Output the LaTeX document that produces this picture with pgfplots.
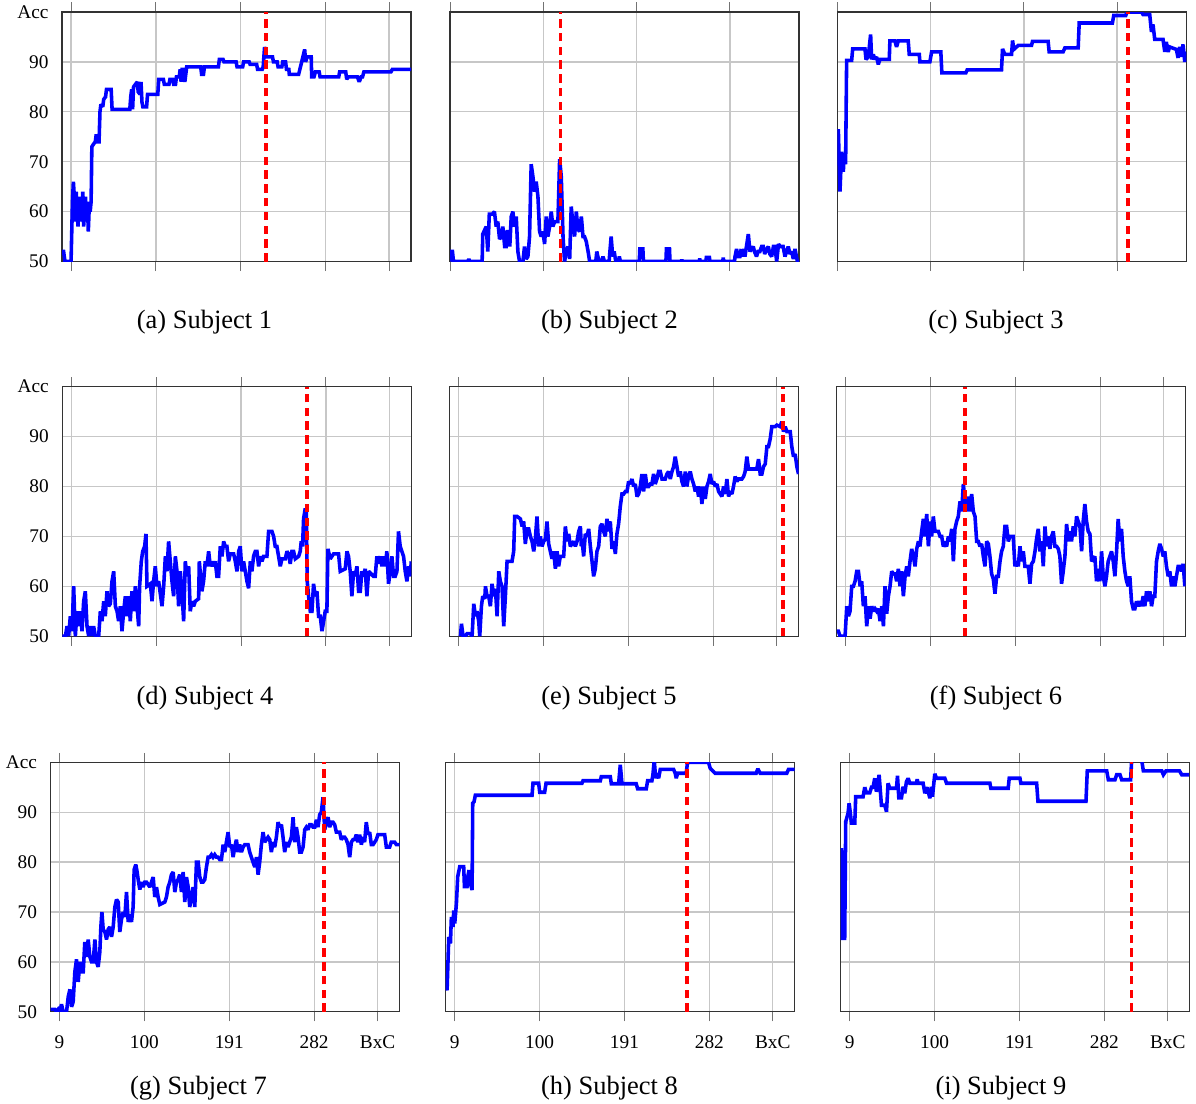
\documentclass[border=0pt]{standalone}
\usepackage{fontspec}
\setmainfont{Liberation Serif}
\usepackage{pgfplots}
\pgfplotsset{compat=1.18}

\pgfplotsset{
  subj/.style={
    scale only axis, width=131.92pt, height=94.31pt,
    anchor=north west,
    ymin=50, ymax=100, ytick={50,60,...,100},
    xmin=-0.7, xmax=373.5,
    xtick={9,100,191,282,350},
    xticklabels={}, yticklabels={},
    grid=major, grid style={black!22, line width=0.5pt},
    axis line style={black!80, line width=0.5pt},
    tick align=outside, major tick length=3.6pt,
    xtick style={black!55, line width=0.4pt},
    ytick style={draw=none},
    tick label style={font=\fontsize{7.3}{8.5}\selectfont},
    y tick label style={xshift=2pt},
  },
  short/.style={xmin=9, xmax=349.5, xtick={9,100,191,282}},
  leftcol/.style={yticklabels={50,60,70,80,90,Acc}},
  bottomrow/.style={xticklabels={9,100,191,282,BxC}, x tick label style={yshift=-2pt}},
  acc/.style={blue, line width=1.35pt, line join=miter, miter limit=2.2},
  sel/.style={red, line width=1.3pt, dash pattern=on 3.2pt off 2pt},
}

\begin{document}
\begin{tikzpicture}
\path[use as bounding box] (0,0) rectangle (452.09pt,-417.31pt);

% ---------------- Subject 1
\begin{axis}[subj, leftcol, at={(23.44pt,-4.54pt)}]
\addplot[acc] table {
x y
-1 52
1 52
2.5 50
9 50
10.5 62
11.5 66
12.5 63
13.5 58
14.5 64
15.5 60
16.5 57
17.5 63
18.5 59
19.5 62
20.5 58
21.5 64
22.5 57
23.5 61
24.5 63
25.5 58
26.5 62
27.5 56
28.5 61
29.5 60
30.5 62
31.3 73
33 73.5
35 74
36 75.5
37 74
39 74
40 80
41 81.5
43 81
44 82.5
46 83
47 84.5
52 84.5
53 80.5
72 80.5
73 83
74 84.5
75 80.5
76 85
78 85.5
80 86
81 84
83 83.5
84 86
85 82
86 81
90 81
91 83.5
102 83.5
103 86.5
108 86.5
109 85.5
114 85.5
115 86.5
118 86.5
119 85.5
121 85.5
122 87
125 87
126 88.5
127 86
128 88.5
130 88.5
131 86
132 87.5
133 89
148 89
149 87.5
151 87.5
152 89
167 89
168 90.5
172 90.5
173 90
186 90
187 89
193 89
194 90
200 90
201 89.5
208 89.5
209 88.5
214 88.5
215 89
216.5 93
218 91
225 91
226 90
230 90
231 89
235 89
236 90
239 90
240 88.5
242.5 88.5
243 87.5
253 87.5
255 89
259.5 92.5
260.5 90
262 91
266.5 91
267 87
269.5 87
271 88
275 88
276 87
296 87
297 88
303.5 88
304.6 86.5
306 87
316 87
318 86
320 87
321.5 87
323 88
352 88
353.5 88.5
374 88.5
};
\addplot[sel] coordinates {(218,50) (218,100)};
\end{axis}

% ---------------- Subject 2
\begin{axis}[subj, short, xmin=8.6, at={(170.1pt,-4.54pt)}]
\addplot[acc] table {
x y
9 50
9.5 52
11 52
12 50
26 50
27 50.5
28 50
40 50
40.6 55.5
44 57
45.5 52
47 59.5
50 59.5
52 60
53.7 57
55.3 58
57 54.5
59 55
60.2 57
62 53
63.5 53
64.5 56
66.5 56
67 53
68.4 59
70 60
71.6 57
73.3 59
74.9 52
76.5 50
79.8 50
81.4 53
83 50.5
84.7 51
86.3 55
87.9 69.5
89.6 67
91.2 64
92.8 66
94.5 63
96.1 56
97.7 55
99.3 56
101 53.5
102.6 59
104.2 55
105.9 57
107.5 60
109.1 57
110.8 58
114 58
115.7 70.5
117.3 67
119 55
120.5 50
122.2 52
123.8 53
125.5 50.5
127 61
128.5 58
130.3 55
132 60
133.5 56.5
135.2 56
136.9 59
138.5 55
140 55
141.7 54
143.5 52
145 50
151 50
152 52
153 51
154.5 50
157 50
158 51
159.5 50
164 50
166 55
167.5 51
169 52
170.5 50
173 50
174 51
175 50
193.5 50
194 52.5
197 52.5
197.5 50
219.5 50
220 52.5
223 52.5
223.5 50
234.5 50
235 50.4
235.5 50
252 50
252.6 50.6
253 50
258.5 50
259 50.8
262 50.8
262.5 50
275 50
275.5 50.8
276 50
286.5 50
287 51
288.5 52.5
290 51
291.8 51
293 52.5
294 51
295 52.5
296.7 51
300 55.5
301.6 52
303 52.5
304.8 53
306 52
308 51
309.5 52
311.3 52
313 53
314.6 53
316 51.5
318 52.5
319.5 53
321 51.5
322.8 51
324.5 53
326 53
327.7 50
329.5 53.5
331 53
332.5 53
334 53
335.8 51
337.5 52
339 53
340.7 51.5
342.3 52
344 50.5
345.6 52.5
347 51
348 50
350 50
};
\addplot[sel] coordinates {(116.5,50) (116.5,100)};
\end{axis}

% ---------------- Subject 3
\begin{axis}[subj, short, at={(316.5pt,-4.54pt)}]
\addplot[acc] table {
x y
9 72
10 76.5
11.6 64
13.2 72
14.9 68
15.5 71
17.1 69.5
18.1 90.3
23 90.3
24 92.6
36 92.6
37 90.5
39.2 91
41.5 95.5
42.5 90.5
44.1 91.5
45.7 90.5
47.3 91
49 89.5
50.6 90.5
59.7 90.5
60.3 94.2
65.2 94.2
66.8 93
68.5 94.2
78.2 94.2
79.2 91.5
89 91.5
89.6 90
99.3 90
101 92
110 92
111 87.8
134.4 87.8
135.7 88.4
169.2 88.4
170.2 92.6
172.5 91.5
179 91.5
180 94.3
181.2 92.5
185.5 93.3
198.5 93.3
199.4 94.1
214.7 94.1
215.7 92
229.3 92
231 92.8
244 92.8
245 97.8
277.4 97.8
278.7 99.3
290.4 99.3
291.7 100
305.7 100
307.3 99.5
313.8 99.5
315.5 96
317 97.5
318.7 94.5
326.8 94.5
328.5 92
330 94
331.7 92
333.3 93
339.8 92.5
341.5 90.8
343 93
344.7 91
346.3 93.5
348 90
349.5 92
};
\addplot[sel] coordinates {(292.5,50) (292.5,100)};
\end{axis}

% ---------------- Subject 4
\begin{axis}[subj, leftcol, at={(23.55pt,-146.17pt)}]
\addplot[acc] table {
x y
-1 50
2.6 50
4.4 52
6.1 50
7.9 54
9.7 51
11.5 60
13.3 50
15.1 55
16.9 52
18.6 55
20.4 51
22.2 57
24 59
25.8 52
27.6 50
29.4 52
31.2 50
32.9 52
34.7 50
38.3 50
40.1 55
41.9 53
43.7 57
45.4 54
47.2 59
49 56
50.8 56.5
52.6 61
54.4 63
56.2 56
58 55
59.7 53
61.5 56
63.3 51
65.1 55
66.9 58
68.7 54
70.5 58
72.2 53
74 59
75.8 55
77.6 60
79.4 56
81.2 52
82.2 60
84 65
85.5 67
87.6 68
89 70.5
90.1 60
93.7 60.5
95.5 57
97.2 61
99 64
100.8 60
102.6 61
106.2 56
108 60
109.8 66
111.5 63
113.3 69
115.1 65
116.9 61
118.7 58
120.5 66
122.3 63
124 56
125.8 63
127.6 59
129.4 53
131.2 65
133 62
134.8 64
136.5 55
138.3 57
140.1 56
141.9 57
145.5 57.5
146.2 65
149 59
150.8 61
152.6 65
154.4 64
156.2 67
158 64
159.8 65
161.6 64
163.3 65
165.1 62
166.9 62
168.7 68
170.5 66
172.3 69
174.1 68
175.8 68
177.6 65
179.4 66.5
183 66.5
184.8 65
186.6 63
188.4 67
190.1 68
191.9 63
193.7 65
195.5 63
197.3 61
199.1 59.6
200.9 65
202.6 63
204.4 66
206.2 67
208 67
209.8 64
211.6 66
213.4 65
215.1 66
218.7 66
220.5 71
224.1 71
225.9 70
227.6 68
229.4 68
231.2 66
233 64
234.8 65.5
238.4 65.5
240.2 67
241.9 66.5
243.7 64.5
245.5 67
247.3 67
249.1 65.5
252.7 66
254.4 67
255.5 69
256.9 68
258 73.5
259.8 75.6
260.9 75
261.9 61
263.4 58
265.2 55
267 55
268.7 60.5
270.5 58
272.3 59
274.1 54
275.9 54
277.7 51
279.5 53
281.2 55
283 55
284.1 67.5
286.6 65.5
288.4 66
290.2 66.5
295.5 66.5
297.3 63
302.7 63.5
304.5 67
306.2 66
308 63
309.8 58
311.6 63
313.4 62
315.2 64
317 59
318.8 59
320.5 63
322.3 62
324.1 63.5
325.9 58
327.7 63
333 62
334.8 62
336.6 66
338.4 64.5
340.2 66
342 64
343.8 66
345.6 64
347.3 67
349.1 60.5
350.9 63
352.7 66
354.5 62
356.3 62
358.1 63
359.8 71
361.6 68
363.4 67
365.2 66
367 63
368.8 61
370.6 64
372.3 62
373.5 65
};
\addplot[sel] coordinates {(261.6,50) (261.6,100)};
\end{axis}

% ---------------- Subject 5
\begin{axis}[subj, at={(169.99pt,-146.17pt)}]
\addplot[acc] table {
x y
10.8 50
11.9 52.5
13.6 50
16.1 50
17.9 50.5
21.5 50.5
23.3 50
25.1 56.5
26.9 54
28.6 55
30.4 53
31.5 50
33.3 56
34.7 58
36.9 57.5
37.6 60
39.4 58
41.1 58
42.9 56
44.7 60.5
46.5 58
48.3 59.5
50.1 54
51.9 63
53.6 61
55.4 60
57.2 52
59 58
60.8 65
66.1 65
67.9 67
69 74
71.5 74
75.1 73.5
76.9 72
78.6 73
80.4 68.5
82.2 71.5
84 71.5
85.8 70
87.6 69
89.4 67
91.1 69.5
92.9 74
94.7 68
96.5 70
98.3 68
100.1 69
101.9 69.5
103.6 73
105.4 68.5
107.2 67
109 65.5
110.8 67
112.6 63.5
114.4 67
116.1 64
117.9 66
121.5 66
123.3 72
125.1 69
126.9 70.5
128.6 68
130.4 68.5
132.2 69
134 68
135.8 69
137.6 71
139.4 72
140.4 68
141.1 69.5
142.9 66
144.7 70.5
146.5 70
148.3 71.5
150.1 68
151.9 65
153.6 62
155.4 63.5
157.2 67
159 68
160.8 72
162.6 72.5
164.4 71
166.1 70
167.9 73.5
169.7 71
171.5 73
173.3 67.5
175.1 69
176.9 66.5
178.6 70.5
180.4 72.5
182.2 76
184 78.5
185.8 78.5
187.6 79
189.4 79
191.1 81
192.9 80.5
194.7 81.5
196.5 80
198.3 80.5
200.1 78
201.9 78.5
203.6 80
205.4 82.5
207.2 79
209 82.5
210.8 80
212.6 80
214.4 80.5
216.1 80.5
217.9 82.5
219.7 80.5
221.5 81.5
223.3 83
225.1 83
226.9 81.5
230.4 81.5
232.2 82.5
234 83
235.8 81.5
237.6 83
239.4 84
241.1 86
242.9 84
244.7 82
246.5 83
248.3 81
250.1 80
251.9 83
253.6 80
255.4 82
257.2 83
259 81.5
260.8 80.5
262.6 79
264.4 80
266.1 78
267.9 80
269.7 76.5
271.5 80
273.3 77.5
275.1 80
276.9 81
278.6 82.5
280.4 80.5
282.2 81
284 80
285.8 80.5
287.6 79
289.4 78.5
291.1 78
292.9 80
294.7 78.5
296.5 81.5
298.3 78
300.1 79
301.9 78.5
303.6 80
305.4 82
307.2 81
309 81.5
312.6 81.5
314.4 82
316.1 83
317.9 86
319.7 83.5
328.6 83.5
330.4 85.5
332.2 82.5
334 82.5
335.8 84
337.6 84.5
339.4 88
341.1 88
342.9 89.5
344.7 92
348.3 92
350.1 92.3
353.6 92
355.4 93
357.2 91
359 92
360.8 91
364.4 91
366.1 88
367.9 86
369.7 86.5
371.5 84
373.3 82.5
};
\addplot[sel] coordinates {(356.5,50) (356.5,100)};
\end{axis}

% ---------------- Subject 6
\begin{axis}[subj, at={(316.27pt,-146.17pt)}]
\addplot[acc] table {
x y
-0.6 51
1.1 51
2.9 50
8.3 50
10.1 56
11.9 54
13.6 55
15.4 60
17.2 60
19 61
20.8 63
22.6 63
24.4 60
26.1 61
27.9 56
29.7 58
31.5 52
33.3 56
35.1 53.5
36.9 56
38.6 55
40.4 55.5
42.2 55
44 55.5
45.8 53
47.6 56
49.4 52
51.1 60
52.9 54.5
54.7 58
56.5 60
58.3 63
60.1 62.5
61.9 62.5
63.6 61
65.4 63.5
67.2 60
69 63
70.8 58
72.6 62
74.4 64
76.1 62
77.9 65
79.7 67.5
81.5 66
83.3 64
85.1 67.5
86.9 69
88.6 68
90.4 71
92.2 73.5
94 70
95.8 74.5
97.6 68
99.4 73
101.1 70
102.9 74
104.7 71
106.5 71
108.3 71
110.1 70
111.9 70
113.6 68
115.4 68.5
117.2 68
119 70
120.8 69
122.6 71.5
124.4 65
126.1 71.5
127.9 73
129.7 74
131.5 77
133.3 75
135.1 80.5
136.9 77
138.6 75
140.4 78
142.2 75
144 78.5
145.8 75
147.6 74
149.4 69
151.1 69
152.9 68
154.7 68.5
156.5 66
158.3 64
160.1 69
161.9 68.5
163.6 66
165.4 62.5
167.2 61.5
169 58.5
170.8 62
172.6 62
174.4 65
176.1 67
177.9 68
179.7 72
181.5 72
183.3 69
185.1 70
186.9 70
188.6 70
190.4 64
192.2 65
194 64
195.8 68
197.6 65
199.4 67
201.1 64
202.9 64
204.7 64
206.5 60.5
208.3 64.5
210.1 65
211.9 67
213.6 69.5
215.4 71.5
217.2 67
219 69
220.8 64
222.6 72
224.4 68
226.1 70
227.9 67.5
229.7 70
231.5 71
233.3 68
235.1 68
236.9 67.5
238.6 66
240.4 60.5
242.2 63
244 66
245.8 72.5
247.6 69
249.4 71
251.1 69
252.9 72
254.7 70
256.5 74
258.3 73
260.1 72
261.9 67
263.6 73
265.4 76.5
267.2 73
269 71
270.8 70.5
272.6 65
274.4 65.5
276.1 66
277.9 61
279.7 63.5
281.5 61
283.3 67
285.1 62
286.9 60
288.6 62
290.4 65
292.2 66
294 67
295.8 65
297.6 62
299.4 67
301.1 73.5
302.9 69
304.7 71.5
306.5 66
308.3 63
310.1 61
311.9 60
313.6 62
315.4 57
317.2 55.5
319 55.5
320.8 57
322.6 56
324.4 57
326.1 56
327.9 58
329.7 56
331.5 59
333.3 57
335.1 59
336.9 56
338.6 58
340.4 58
342.2 65
344 67
345.8 68.5
347.6 67.5
349.4 66
351.1 67
352.9 64
354.7 62
356.5 63
358.3 60
360.1 62
361.9 60
363.6 62
365.4 64
367.2 64
369 63
370.8 64.5
372.6 60
};
\addplot[sel] coordinates {(136.9,50) (136.9,100)};
\end{axis}

% ---------------- Subject 7
\begin{axis}[subj, leftcol, bottomrow, at={(19.09pt,-288.15pt)}]
\addplot[acc] table {
x y
-0.7 50.5
4 50.5
5.8 50
7.6 50.5
9.4 50
11.1 51.5
12.9 50
16.5 50
18.3 53
20.1 54.5
21.9 51
23.6 52
25.4 58
27.2 60.5
29 56
30.8 60
32.6 58
34.4 58
36.1 64
37.9 61
39.7 64.5
41.5 61
43.3 60
45.1 60
46.9 64.5
48.6 60
50.4 59
52.2 62
53.3 67
54.4 70
55.8 66.5
57.6 66
59.4 64.5
61.1 66.5
62.9 67
64.7 65
66.5 67
68.3 71
70.1 72.5
71.9 72
73.6 66
75.4 68.5
77.2 70
79 69
80.8 74
82.6 68
84.4 69.5
86.1 68
87.9 71
89 78.5
90.8 79.5
92.2 78
93.3 76.5
95.1 74.5
96.9 76
98.6 75
100.4 76
102.2 76
104 75.5
105.8 75
107.6 76
109.4 77
111.1 73
112.9 75
114.7 73
116.5 71.5
121.9 72
123.6 73
125.4 75
127.2 76
129 77.5
130.8 78
132.6 74
134.4 76
136.1 76.5
137.9 77.5
139.7 74
141.5 78
143.3 72
145.1 77
146.9 75
148.6 71
150.4 73
152.2 75
154 71
155.8 80
157.6 80
159.4 77
161.1 76
162.9 76
164.7 76.5
166.5 79
168.3 81
170.1 81
171.9 81.5
173.6 81
175.4 81.5
177.2 81
179 81
180.8 80.5
182.6 80.5
184.4 83.5
186.1 82
187.9 84
189.7 86
191.5 83
193.3 83.5
195.1 81
196.9 83
198.6 84.5
200.4 82
202.2 83.5
204 82
205.8 83
207.6 83.5
211.1 83.5
212.9 82
214.7 81
216.5 80
218.3 79
220.1 81
221.9 77.5
223.6 80
225.4 83.5
227.2 86
229 84
230.8 84.5
232.6 85
234.4 84.5
236.1 82
237.9 84
239.7 83
241.5 85
243.3 88
245.1 87
246.9 87.5
248.6 85
250.4 82
252.2 84
254 83
255.8 84
257.6 85
259.4 89
261.1 84
262.9 87
264.7 85
266.5 82
268.3 82
270.1 83
271.9 86.5
273.6 87
275.4 86.5
277.2 87.5
279 87.5
280.8 87
282.6 87
284.4 88.5
286.1 87
287.9 89.5
289.7 90
291.5 93
293.3 86.5
295.1 88
296.9 89
298.6 87
300.4 88
302.2 88
304 87.5
305.8 86
309.4 86
311.1 84.5
312.9 85
314.7 85
316.5 84.5
318.3 83.5
320.1 81
321.9 84
323.6 84.5
325.4 84.5
327.2 85.5
329 84
330.8 85.5
332.6 83.5
334.4 85
336.1 84
337.9 88
339.7 85.5
341.5 86
343.3 83.5
345.1 83.5
346.9 84
348.6 84.5
350.4 85.5
357.6 85.5
359.4 83
362.9 83
364.7 84
368.3 84
370.1 83.5
373.5 83.5
};
\addplot[sel] coordinates {(292.7,50) (292.7,100)};
\end{axis}

% ---------------- Subject 8
\begin{axis}[subj, bottomrow, at={(168.47pt,-288.15pt)}]
\addplot[acc] table {
x y
-0.7 56
0.8 54.3
2.6 65
4.4 63.7
5.4 69
7.2 67
7.9 70.3
9 67.7
10.8 71.7
12.2 77.1
14.4 79.1
18.6 79.1
19.4 75.1
22.2 75.1
23.3 77.4
24.4 78.4
25.8 75.7
27.6 74.4
28.3 91.8
29.7 92.1
31.1 93.4
91.9 93.4
92.9 95.8
99 95.8
100.1 94
105.4 94
106.9 95.8
145.4 95.8
146.5 96.3
165.1 96.3
166.1 97.1
175.8 97.1
176.9 95.7
184.7 95.7
186.5 99.5
188.3 95.7
203.6 95.7
205.1 94.7
214.4 94.7
215.8 96.3
220.4 96.3
221.5 97.5
222.9 100.5
224.4 96.8
225.8 97.8
227.6 96.8
229.4 98.6
243.6 98.6
245.4 97.8
246.5 96.8
248 97.8
257.2 97.8
258.6 100
281.1 100
282.9 98.8
288.3 97.8
332.2 97.8
334 98.7
336.5 97.8
365 97.8
366.9 98.6
374 98.6
};
\addplot[sel] coordinates {(258,50) (258,100)};
\end{axis}

% ---------------- Subject 9
\begin{axis}[subj, bottomrow, at={(317.78pt,-288.15pt)}]
\addplot[acc] table {
x y
-1 67.4
0.1 82.8
1.1 64.7
3.6 64.7
4.7 88.1
7.2 89.8
8.3 91.8
9.7 89.8
10.8 87.8
14.4 87.8
15.4 93.1
23.3 93.1
25.1 95
26.9 93.9
30.5 93.9
32.3 95
34 95
35.8 96.8
37.6 94.1
40.5 97.5
43 91.4
46.6 91.4
48.4 90.1
50.1 95.8
51.9 94.8
59.1 94.8
60.2 97.3
61.6 92.9
64.5 92.9
66.2 95.1
68 93.8
69.8 96.1
71.6 96.8
73.4 95.8
80.6 95.8
81.3 96.6
82.3 95.8
87.7 95.8
89.5 93.8
92 95
94.9 92.8
96.7 95.1
97.7 93.1
100.2 97.7
102 96.8
111 96.8
112.8 95.8
159.3 95.8
160.3 94.8
178.9 94.8
180 96.8
191.5 96.8
192.5 95.8
209.4 95.8
210.8 92.2
262.3 92.2
263.7 98.3
284.5 98.3
286.3 96.5
293.4 96.5
295.2 97.5
298.8 97.5
300.6 96.5
310.2 96.5
311.3 100.5
322 100.5
323.8 98.3
343.5 98.3
345.3 97.5
348.2 98.3
362.5 98.3
365 97.5
373 97.5
};
\addplot[sel] coordinates {(311,50) (311,100)};
\end{axis}

% sub-captions
\node[font=\fontsize{10}{12}\selectfont] at (77.30pt,-121.9pt) {(a) Subject 1};
\node[font=\fontsize{10}{12}\selectfont] at (230.39pt,-121.9pt) {(b) Subject 2};
\node[font=\fontsize{10}{12}\selectfont] at (376.49pt,-121.9pt) {(c) Subject 3};
\node[font=\fontsize{10}{12}\selectfont] at (77.49pt,-264.0pt) {(d) Subject 4};
\node[font=\fontsize{10}{12}\selectfont] at (230.20pt,-264.0pt) {(e) Subject 5};
\node[font=\fontsize{10}{12}\selectfont] at (376.49pt,-264.0pt) {(f) Subject 6};
\node[font=\fontsize{10}{12}\selectfont] at (75.03pt,-411.3pt) {(g) Subject 7};
\node[font=\fontsize{10}{12}\selectfont] at (230.39pt,-411.3pt) {(h) Subject 8};
\node[font=\fontsize{10}{12}\selectfont] at (378.38pt,-411.3pt) {(i) Subject 9};
\end{tikzpicture}
\end{document}
